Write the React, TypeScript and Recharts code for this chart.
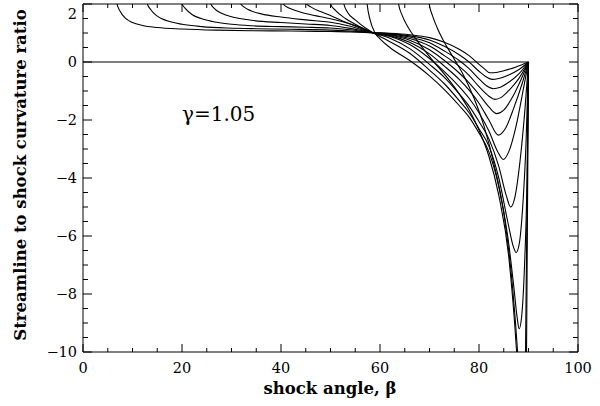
import React from 'react';
import { LineChart, Line, XAxis, YAxis } from 'recharts';

// Each curve: [shock angle beta (deg), streamline/shock curvature ratio]
const curveA: [number, number][] = [
  [6.4, 2.6], [6.8, 2.05], [7.5, 1.75], [8.5, 1.52], [10, 1.36], [12, 1.26], [15, 1.19], [20, 1.14],
  [27, 1.1], [34, 1.08], [42, 1.07], [50, 1.05], [54, 1.04], [58.5, 1.01], [62, 0.99], [66, 0.94],
  [70, 0.84], [73, 0.68], [76, 0.44], [78, 0.22], [80, -0.08], [81, -0.22], [82.2, -0.37], [83.5, -0.36],
  [85, -0.3], [87.5, -0.17], [90, 0],
];
const curveB: [number, number][] = [
  [12.5, 2.6], [12.9, 2.05], [13.7, 1.8], [15, 1.58], [17, 1.42], [20, 1.3], [24, 1.22], [29, 1.17],
  [34, 1.15], [42, 1.13], [50, 1.1], [54, 1.07], [58.5, 1.01], [62, 0.98], [66, 0.9], [70, 0.76],
  [73, 0.54], [76, 0.25], [78, 0.0], [80, -0.32], [81.5, -0.52], [82.7, -0.6], [84, -0.57], [86, -0.45],
  [88, -0.27], [90, 0],
];
const curveC: [number, number][] = [
  [19.5, 2.6], [19.9, 2.05], [20.8, 1.82], [22, 1.64], [24, 1.49], [27, 1.37], [30, 1.3], [34, 1.25],
  [40, 1.22], [45, 1.2], [50, 1.17], [54, 1.11], [58.5, 1.01], [62, 0.97], [66, 0.86], [70, 0.66],
  [73, 0.38], [76, 0.05], [78, -0.23], [80, -0.58], [81.5, -0.82], [82.9, -0.92], [84.3, -0.87],
  [86, -0.7], [88, -0.42], [90, 0],
];
const curveD: [number, number][] = [
  [25.3, 2.6], [25.7, 2.05], [26.5, 1.85], [28, 1.68], [30, 1.56], [34, 1.44], [40, 1.36], [45, 1.31],
  [50, 1.26], [54, 1.16], [58.5, 1.01], [62, 0.95], [66, 0.81], [70, 0.55], [73, 0.22], [76, -0.15],
  [78, -0.46], [80, -0.85], [82, -1.18], [83.2, -1.29], [84.5, -1.22], [86.2, -0.95], [88, -0.58], [90, 0],
];
const curveE: [number, number][] = [
  [31.4, 2.6], [31.7, 2.05], [32.5, 1.9], [34, 1.76], [36, 1.66], [40, 1.55], [44, 1.47], [47, 1.42],
  [50, 1.37], [54, 1.23], [58.5, 1.01], [62, 0.93], [66, 0.75], [70, 0.42], [73, 0.05], [76, -0.38],
  [78, -0.72], [80, -1.12], [82, -1.55], [83.6, -1.78], [85, -1.66], [86.8, -1.2], [88.5, -0.6], [90, 0],
];
const curveF: [number, number][] = [
  [39.9, 2.6], [40.2, 2.05], [41, 1.92], [42.5, 1.8], [45, 1.67], [48, 1.56], [50, 1.49], [53, 1.36],
  [56, 1.2], [58.5, 1.01], [62, 0.91], [66, 0.68], [70, 0.28], [73, -0.14], [76, -0.6], [78, -0.97],
  [80, -1.42], [82, -2.0], [83.9, -2.52], [85.3, -2.3], [87, -1.6], [88.7, -0.75], [90, 0],
];
const curveG: [number, number][] = [
  [44.6, 2.6], [44.9, 2.05], [46, 1.9], [48, 1.74], [50, 1.6], [52, 1.45], [54, 1.31], [56, 1.17],
  [58.5, 1.01], [62, 0.88], [66, 0.6], [70, 0.12], [73, -0.33], [76, -0.85], [78, -1.25], [80, -1.75],
  [82, -2.38], [83.8, -3.1], [84.9, -3.36], [86, -3.1], [87.5, -2.2], [89, -0.9], [90, 0],
];
const curveH: [number, number][] = [
  [49.7, 2.6], [50.0, 2.0], [51, 1.78], [53, 1.5], [55, 1.3], [57, 1.12], [58.5, 1.01], [62, 0.82],
  [66, 0.46], [70, -0.08], [73, -0.53], [76, -1.1], [78, -1.52], [80, -2.05], [82, -2.65], [84, -3.6],
  [85.5, -4.6], [86.4, -5.0], [87.2, -4.7], [88.3, -3.4], [89.3, -1.6], [90, 0],
];
const curveI: [number, number][] = [
  [52.4, 2.6], [52.7, 2.0], [53.5, 1.7], [55, 1.45], [57, 1.18], [58.5, 1.02], [60, 0.88], [62, 0.7],
  [66, 0.3], [70, -0.28], [73, -0.75], [76, -1.33], [78, -1.75], [80, -2.3], [82, -2.9], [84, -4.0],
  [85.8, -5.5], [87, -6.4], [87.5, -6.57], [88.1, -6.3], [88.9, -4.8], [89.5, -2.8], [90, 0],
];
const curveJ: [number, number][] = [
  [57.1, 2.6], [57.4, 2.0], [58, 1.45], [59, 1.0], [60, 0.8], [62, 0.5], [66, 0.05], [68, -0.2],
  [70, -0.48], [73, -0.95], [76, -1.5], [78, -1.9], [80, -2.45], [82, -3.1], [84, -4.3], [85.8, -6.0],
  [87, -7.7], [87.7, -8.8], [88.1, -9.2], [88.6, -8.8], [89.2, -7.0], [89.7, -4.0], [90, 0],
];
const curveK: [number, number][] = [
  [63.4, 2.6], [63.7, 2.05], [64.5, 1.6], [65.5, 1.25], [67, 0.85], [69, 0.4], [71, -0.02], [73, -0.42],
  [76, -1.1], [78, -1.65], [80, -2.35], [82, -3.25], [84, -4.6], [86, -6.7], [87.6, -10], [88.6, -13],
  [89.4, -10], [90, 0],
];
const curveL: [number, number][] = [
  [69.6, 2.6], [69.9, 2.05], [70.6, 1.6], [71.5, 1.2], [73, 0.68], [75, 0.1], [77, -0.5], [79, -1.25],
  [81, -2.2], [83, -3.5], [85, -5.2], [86.8, -7.8], [87.8, -10], [88.8, -13], [89.6, -10], [90, 0],
];
const zeroLine: [number, number][] = [[0, 0], [90, 0]];

const curves = [curveA, curveB, curveC, curveD, curveE, curveF, curveG, curveH, curveI, curveJ, curveK, curveL, zeroLine];

const xMajor = [0, 20, 40, 60, 80, 100];
const xTicks = [0, 5, 10, 15, 20, 25, 30, 35, 40, 45, 50, 55, 60, 65, 70, 75, 80, 85, 90, 95, 100];
const yMajor = [-10, -8, -6, -4, -2, 0, 2];
const yTicks = [-10, -9.5, -9, -8.5, -8, -7.5, -7, -6.5, -6, -5.5, -5, -4.5, -4, -3.5, -3, -2.5, -2, -1.5, -1, -0.5, 0, 0.5, 1, 1.5, 2];

const annotation = 'γ=1.05';
const xLabel = 'shock angle, β';
const yLabel = 'Streamline to shock curvature ratio';

const FONT = '"DejaVu Serif", "Liberation Serif", serif';
const fmt = (v: number) => (v < 0 ? '\u2212' + Math.abs(v) : String(v));

const toData = (pts: [number, number][]) => pts.map(([x, y]) => ({ x, y }));

function BottomTick(props: any) {
  const { x, y, payload } = props;
  const v = payload.value;
  const major = xMajor.includes(v);
  return (
    <g>
      <line x1={x} x2={x} y1={y} y2={y - (major ? 8 : 4)} stroke="#000" strokeWidth={1} />
      {major && (
        <text x={x} y={y + 21} textAnchor="middle" fontFamily={FONT} fontSize={14.5} fill="#000">
          {fmt(v)}
        </text>
      )}
    </g>
  );
}
function TopTick(props: any) {
  const { x, y, payload } = props;
  const major = xMajor.includes(payload.value);
  return <line x1={x} x2={x} y1={y} y2={y + (major ? 8 : 4)} stroke="#000" strokeWidth={1} />;
}
function LeftTick(props: any) {
  const { x, y, payload } = props;
  const v = payload.value;
  const major = yMajor.includes(v);
  const ly = v === 2 ? y + 15 : y + 5;
  return (
    <g>
      <line x1={x} x2={x + (major ? 9 : 5)} y1={y} y2={y} stroke="#000" strokeWidth={1} />
      {major && (
        <text x={x - 6} y={ly} textAnchor="end" fontFamily={FONT} fontSize={14.5} fill="#000">
          {fmt(v)}
        </text>
      )}
    </g>
  );
}
function RightTick(props: any) {
  const { x, y, payload } = props;
  const major = yMajor.includes(payload.value);
  return <line x1={x} x2={x - (major ? 9 : 5)} y1={y} y2={y} stroke="#000" strokeWidth={1} />;
}

export default function App() {
  return (
    <div style={{ position: 'absolute', left: 0, top: 0, width: 600, height: 406, background: '#fff' }}>
      <LineChart width={600} height={406} margin={{ top: 3, right: 21, bottom: 0, left: 0 }}>
        <XAxis
          xAxisId={0}
          dataKey="x"
          type="number"
          domain={[0, 100]}
          allowDataOverflow
          ticks={xTicks}
          interval={0}
          height={54}
          tickSize={0}
          tickMargin={0}
          tickLine={false}
          axisLine={{ stroke: '#000', strokeWidth: 1 }}
          tick={<BottomTick />}
        />
        <XAxis
          xAxisId="top"
          orientation="top"
          dataKey="x"
          type="number"
          domain={[0, 100]}
          allowDataOverflow
          ticks={xTicks}
          interval={0}
          height={1}
          tickSize={0}
          tickMargin={0}
          tickLine={false}
          axisLine={{ stroke: '#000', strokeWidth: 1 }}
          tick={<TopTick />}
        />
        <YAxis
          yAxisId={0}
          type="number"
          domain={[-10, 2]}
          allowDataOverflow
          ticks={yTicks}
          interval={0}
          width={83}
          tickSize={0}
          tickMargin={0}
          tickLine={false}
          axisLine={{ stroke: '#000', strokeWidth: 1 }}
          tick={<LeftTick />}
        />
        <YAxis
          yAxisId="right"
          orientation="right"
          type="number"
          domain={[-10, 2]}
          allowDataOverflow
          ticks={yTicks}
          interval={0}
          width={1}
          tickSize={0}
          tickMargin={0}
          tickLine={false}
          axisLine={{ stroke: '#000', strokeWidth: 1 }}
          tick={<RightTick />}
        />
        {curves.map((c, i) => (
          <Line
            key={i}
            data={toData(c)}
            dataKey="y"
            xAxisId={0}
            yAxisId={0}
            type="monotone"
            stroke="#000"
            strokeWidth={1.1}
            dot={false}
            activeDot={false}
            isAnimationActive={false}
          />
        ))}
        <text x={182} y={121} fontFamily={FONT} fontSize={20} fill="#000">
          {annotation}
        </text>
        <text x={330} y={394} textAnchor="middle" fontFamily={FONT} fontWeight="bold" fontSize={16.5} fill="#000">
          {xLabel}
        </text>
        <text
          x={26}
          y={175}
          transform="rotate(-90 26 175)"
          textAnchor="middle"
          fontFamily={FONT}
          fontWeight="bold"
          fontSize={16.5}
          fill="#000"
        >
          {yLabel}
        </text>
      </LineChart>
    </div>
  );
}
